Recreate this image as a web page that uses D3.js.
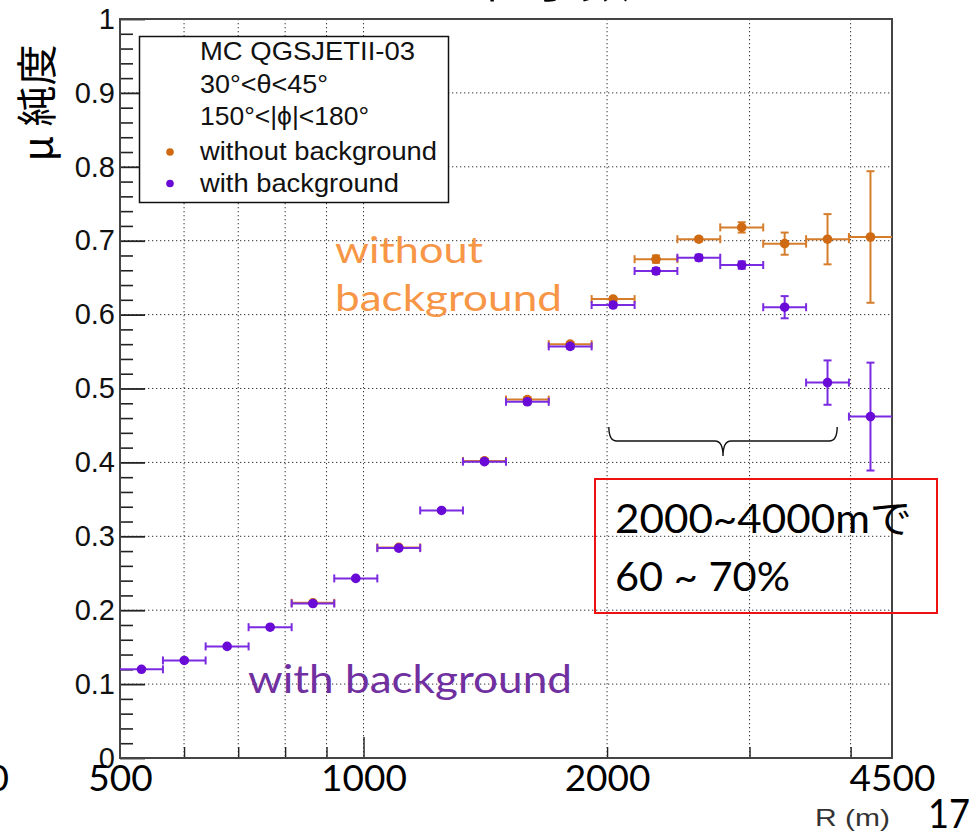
<!DOCTYPE html>
<html>
<head>
<meta charset="utf-8">
<script src="https://cdn.jsdelivr.net/npm/d3@7"></script>
<style>
  html, body { margin: 0; padding: 0; background: #fff; }
  svg { display: block; }
</style>
</head>
<body>
<svg id="chart" width="976" height="838"></svg>
<script>
// Log-uniform R bins (m), 18 bins between 500 and 4500
const binEdges = [500, 565, 638, 721, 815, 920, 1040, 1175, 1327, 1500,
                  1694, 1914, 2163, 2443, 2760, 3119, 3524, 3981, 4500];

// muon purity with background
const withBg    = [0.120, 0.132, 0.151, 0.177, 0.209, 0.243, 0.284, 0.335, 0.401,
                   0.482, 0.557, 0.613, 0.659, 0.677, 0.667, 0.610, 0.508, 0.462];
const withBgErr = [0.001, 0.001, 0.002, 0.002, 0.002, 0.002, 0.002, 0.002, 0.002,
                   0.003, 0.003, 0.003, 0.004, 0.004, 0.005, 0.015, 0.030, 0.073];

// muon purity without background (null = no entry)
const withoutBg    = [null, null, null, null, 0.210, null, 0.285, null, 0.402,
                      0.485, 0.560, 0.621, 0.675, 0.702, 0.718, 0.696, 0.702, 0.705];
const withoutBgErr = [null, null, null, null, 0.002, null, 0.002, null, 0.003,
                      0.003, 0.003, 0.003, 0.005, 0.003, 0.007, 0.015, 0.034, 0.089];

const yMajorTicks = [0, 0.1, 0.2, 0.3, 0.4, 0.5, 0.6, 0.7, 0.8, 0.9, 1];
const yTickLabels = ["0", "0.1", "0.2", "0.3", "0.4", "0.5", "0.6", "0.7", "0.8", "0.9", "1"];
const xGridTicks  = [600, 700, 800, 900, 1000, 2000, 3000, 4000];
const xTickLabels = [500, 1000, 2000, 4500];

const legendLines = ["MC QGSJETII-03", "30°<θ<45°", "150°<|ϕ|<180°"];
const seriesNames = ["without background", "with background"];

const colOrange = "#cf6a12";
const colPurple = "#6a0ad6";
const colOrangeBar = "#d67d2c";
const colPurpleBar = "#7a2ae0";

const svg = d3.select("#chart");
const L = 120, R = 892, T = 19, B = 758;

const x = d3.scaleLog().domain([500, 4500]).range([L, R]);
const y = d3.scaleLinear().domain([0, 1]).range([B, T]);

// heading, mostly above the top edge
svg.append("text")
  .attr("x", 430).attr("y", -3)
  .attr("font-family", "'Noto Sans CJK JP'")
  .attr("font-size", 50)
  .attr("fill", "#000")
  .text("全粒子数");

// grid
const grid = svg.append("g").attr("stroke", "#333").attr("stroke-width", 1)
  .attr("stroke-dasharray", "1.3,2.7");
grid.selectAll("line.v").data(xGridTicks).join("line")
  .attr("x1", d => x(d)).attr("x2", d => x(d))
  .attr("y1", T).attr("y2", B);
grid.selectAll("line.h").data(yMajorTicks.slice(1, -1)).join("line")
  .attr("x1", L).attr("x2", R)
  .attr("y1", d => y(d)).attr("y2", d => y(d));

// y axis: major + minor ticks pointing inward
const yMinor = d3.range(0, 50).map(i => i * 0.02).filter(v => Math.abs(v * 10 - Math.round(v * 10)) > 1e-6);
const yMinorAxis = d3.axisLeft(y).tickValues(yMinor).tickSize(-13).tickFormat("");
svg.append("g").attr("transform", `translate(${L},0)`).call(yMinorAxis)
  .call(g => g.select(".domain").remove())
  .call(g => g.selectAll("line").attr("stroke", "#222").attr("stroke-width", 1.6));

const yAxis = d3.axisLeft(y).tickValues(yMajorTicks).tickSize(-25).tickPadding(5)
  .tickFormat((d, i) => yTickLabels[i]);
svg.append("g").attr("transform", `translate(${L},0)`).call(yAxis)
  .call(g => g.select(".domain").remove())
  .call(g => g.selectAll("line").attr("stroke", "#222").attr("stroke-width", 1.8))
  .call(g => g.selectAll("text")
    .attr("font-family", "'Liberation Sans', Arial, sans-serif")
    .attr("font-size", 29).attr("fill", "#111"));

// x axis ticks (inward)
const xAxis = d3.axisBottom(x).tickValues(xGridTicks.filter(d => d !== 1000)).tickSize(-11).tickFormat("");
svg.append("g").attr("transform", `translate(0,${B})`).call(xAxis)
  .call(g => g.select(".domain").remove())
  .call(g => g.selectAll("line").attr("stroke", "#222").attr("stroke-width", 1.4));
const xAxisMajor = d3.axisBottom(x).tickValues([1000]).tickSize(-21).tickFormat("");
svg.append("g").attr("transform", `translate(0,${B})`).call(xAxisMajor)
  .call(g => g.select(".domain").remove())
  .call(g => g.selectAll("line").attr("stroke", "#222").attr("stroke-width", 1.4));

// frame
svg.append("rect").attr("x", L).attr("y", T).attr("width", R - L).attr("height", B - T)
  .attr("fill", "none").attr("stroke", "#444").attr("stroke-width", 2);

// x tick labels
const xLab = d3.axisBottom(x).tickValues(xTickLabels).tickSize(0).tickPadding(7)
  .tickFormat(d3.format("d"));
svg.append("g").attr("transform", `translate(0,${B})`).call(xLab)
  .call(g => g.select(".domain").remove())
  .call(g => g.selectAll("text")
    .attr("font-family", "Lato, 'Open Sans', sans-serif")
    .attr("font-size", 37).attr("fill", "#000"));
// leftover glyph at far left
svg.append("text").attr("x", 9).attr("y", 791)
  .attr("text-anchor", "end")
  .attr("font-family", "Lato, sans-serif").attr("font-size", 37).text("0");

// legend
const lg = svg.append("g");
lg.append("rect").attr("x", 139.5).attr("y", 36.5).attr("width", 309).attr("height", 166)
  .attr("fill", "#fff").attr("stroke", "#111").attr("stroke-width", 1.5);
const legendFont = "'Liberation Sans', Arial, sans-serif";
const legendWidths = [215, 128, 169];
legendLines.forEach((t, i) => {
  lg.append("text").attr("x", 200).attr("y", 60 + i * 32.5)
    .attr("font-family", legendFont).attr("font-size", 25).attr("fill", "#111")
    .attr("textLength", legendWidths[i]).attr("lengthAdjust", "spacingAndGlyphs")
    .text(t);
});
const seriesWidths = [237, 199];
[colOrange, colPurple].forEach((c, i) => {
  lg.append("circle").attr("cx", 170).attr("cy", 152 + i * 31.5).attr("r", 3.8).attr("fill", c);
  lg.append("text").attr("x", 200).attr("y", 160 + i * 31.5)
    .attr("font-family", legendFont).attr("font-size", 25).attr("fill", "#111")
    .attr("textLength", seriesWidths[i]).attr("lengthAdjust", "spacingAndGlyphs")
    .text(seriesNames[i]);
});

// error bars + markers
function drawSeries(vals, errs, col, barCol) {
  const pts = vals.map((v, i) => ({
    v, e: errs[i], lo: binEdges[i], hi: binEdges[i + 1],
    c: Math.sqrt(binEdges[i] * binEdges[i + 1])
  })).filter(d => d.v !== null);
  const g = svg.append("g").attr("stroke", barCol).attr("stroke-width", 2).attr("fill", "none");
  const cap = 4;
  pts.forEach(d => {
    const cx = x(d.c), cy = y(d.v);
    g.append("line").attr("x1", x(d.lo)).attr("x2", x(d.hi)).attr("y1", cy).attr("y2", cy);
    if (d.lo > 500) g.append("line").attr("x1", x(d.lo)).attr("x2", x(d.lo)).attr("y1", cy - cap).attr("y2", cy + cap);
    if (d.hi < 4500) g.append("line").attr("x1", x(d.hi)).attr("x2", x(d.hi)).attr("y1", cy - cap).attr("y2", cy + cap);
    g.append("line").attr("x1", cx).attr("x2", cx).attr("y1", y(d.v - d.e)).attr("y2", y(d.v + d.e));
    [d.v - d.e, d.v + d.e].forEach(w => {
      g.append("line").attr("x1", cx - cap).attr("x2", cx + cap).attr("y1", y(w)).attr("y2", y(w));
    });
  });
  svg.append("g").selectAll("circle").data(pts).join("circle")
    .attr("cx", d => x(d.c)).attr("cy", d => y(d.v)).attr("r", 4.8).attr("fill", col);
}
drawSeries(withoutBg, withoutBgErr, colOrange, colOrangeBar);
drawSeries(withBg, withBgErr, colPurple, colPurpleBar);

// axis titles
svg.append("text")
  .attr("transform", "translate(52,103) rotate(-90)")
  .attr("text-anchor", "middle")
  .attr("font-family", "'Noto Sans CJK JP', sans-serif")
  .attr("font-size", 41).attr("fill", "#000")
  .text("μ 純度");
svg.append("text").attr("x", 815).attr("y", 826)
  .attr("font-family", "'Liberation Sans', Arial, sans-serif")
  .attr("font-size", 24).attr("fill", "#333")
  .attr("textLength", 75).attr("lengthAdjust", "spacingAndGlyphs")
  .text("R (m)");

// annotations
const noteFont = "Lato, 'Noto Sans CJK JP', sans-serif";
function note(t, xx, yy, fs, col, w) {
  svg.append("text").attr("x", xx).attr("y", yy)
    .attr("font-family", noteFont).attr("font-size", fs).attr("fill", col)
    .attr("textLength", w).attr("lengthAdjust", "spacingAndGlyphs")
    .text(t);
}
note("without", 335, 263, 37, "#f79646", 148);
note("background", 335, 311, 37, "#f79646", 227);
note("with background", 248, 693, 38, "#7030a0", 324);

// brace over 2000–4000 m
const bx0 = x(2010), bx1 = x(3850), bmid = (bx0 + bx1) / 2;
svg.append("path")
  .attr("d", `M${bx0},427 Q${bx0},441 ${bx0 + 8},441 L${bmid - 8},441 Q${bmid},441 ${bmid},456 Q${bmid},441 ${bmid + 8},441 L${bx1 - 8},441 Q${bx1},441 ${bx1},427`)
  .attr("fill", "none").attr("stroke", "#111").attr("stroke-width", 1.4);

svg.append("rect").attr("x", 595).attr("y", 479).attr("width", 342).attr("height", 134)
  .attr("fill", "none").attr("stroke", "#ee1111").attr("stroke-width", 2);
note("2000~4000mで", 615, 533, 40, "#000", 297);
note("60 ~ 70%", 615, 591, 40, "#000", 175);

note("17", 928, 828, 40, "#000", 42);
</script>
</body>
</html>
